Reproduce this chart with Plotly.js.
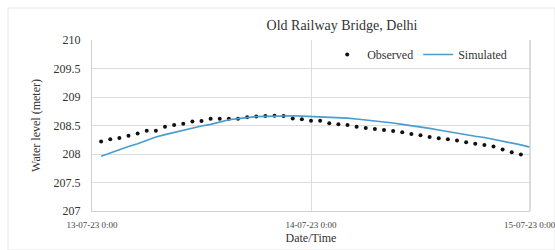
<!DOCTYPE html>
<html>
<head>
<meta charset="utf-8">
<script src="https://cdn.plot.ly/plotly-3.0.1.min.js"></script>
<style>html,body{margin:0;padding:0;background:#fff;}#chart{width:555px;height:250px;}</style>
</head>
<body>
<div id="chart"></div>
<script>
// hours after 13-07-23 0:00
var obsHours = [1,2,3,4,5,6,7,8,9,10,11,12,13,14,15,16,17,18,19,20,21,22,23,24,25,26,27,28,29,30,31,32,33,34,35,36,37,38,39,40,41,42,43,44,45,46,47];
var observed = [208.22,208.26,208.28,208.32,208.36,208.41,208.41,208.48,208.51,208.53,208.57,208.58,208.62,208.62,208.62,208.62,208.645,208.66,208.665,208.67,208.665,208.625,208.61,208.585,208.585,208.54,208.52,208.51,208.48,208.455,208.44,208.42,208.405,208.38,208.35,208.33,208.30,208.275,208.26,208.235,208.205,208.18,208.16,208.13,208.08,208.03,207.99];
var simHours = [1,2,3,4,5,6,7,8,9,10,11,12,13,14,15,16,17,18,19,20,21,22,23,24,25,26,27,28,29,30,31,32,33,34,35,36,37,38,39,40,41,42,43,44,45,46,47,48];
var simulated = [207.96,208.02,208.08,208.13,208.18,208.24,208.30,208.34,208.38,208.42,208.46,208.49,208.52,208.56,208.60,208.62,208.64,208.655,208.66,208.665,208.67,208.67,208.665,208.66,208.655,208.65,208.64,208.63,208.615,208.60,208.585,208.565,208.545,208.52,208.50,208.47,208.45,208.42,208.39,208.365,208.34,208.31,208.29,208.26,208.23,208.20,208.16,208.12];
var xTickVals = [0,24,48];
var xTickText = ['13-07-23 0:00','14-07-23 0:00','15-07-23 0:00'];

var serif = '"Liberation Serif"';
var data = [
  {x: obsHours, y: observed, name: 'Observed', type: 'scatter', mode: 'markers',
   marker: {color: '#111', size: 4}},
  {x: simHours, y: simulated, name: 'Simulated', type: 'scatter', mode: 'lines',
   line: {color: '#4a9bd0', width: 1.6}}
];
var tickFont = {family: serif, size: 9, color: '#444'};
var layout = {
  width: 555, height: 250,
  margin: {l: 92, r: 25, t: 40, b: 39},
  paper_bgcolor: '#fff', plot_bgcolor: '#fff',
  font: {family: serif, color: '#333'},
  showlegend: true,
  legend: {orientation: 'h', x: 0.537, y: 0.915, xanchor: 'left', yanchor: 'middle',
           font: {family: serif, size: 12, color: '#333'}, bgcolor: 'rgba(0,0,0,0)',
           tracegroupgap: 0, itemwidth: 30},
  title: {text: 'Old Railway Bridge, Delhi', font: {family: serif, size: 14, color: '#333'},
          x: 342/555, xanchor: 'center', y: 1 - 25/250, yanchor: 'middle'},
  xaxis: {range: [0, 48], tickvals: xTickVals.slice(0, 2), ticktext: xTickText.slice(0, 2), automargin: false,
          showgrid: true, gridcolor: '#dcdcdc', gridwidth: 1,
          showline: true, linecolor: '#d0d0d0', zeroline: false,
          ticks: 'outside', ticklen: 5, tickcolor: 'rgba(0,0,0,0)',
          tickfont: tickFont,
          title: {text: 'Date/Time', font: {family: serif, size: 12, color: '#333'}, standoff: 4}},
  yaxis: {range: [207, 210], dtick: 0.5, tick0: 207, automargin: false,
          showgrid: true, gridcolor: '#dcdcdc', gridwidth: 1,
          showline: true, linecolor: '#d0d0d0', zeroline: false,
          ticks: 'outside', ticklen: 8, tickcolor: 'rgba(0,0,0,0)',
          tickfont: {family: serif, size: 12, color: '#333'},
          title: {text: 'Water level (meter)', font: {family: serif, size: 12, color: '#333'}, standoff: 10}},
  annotations: [
    {x: xTickVals[2], xref: 'x', y: -14/171, yref: 'paper', text: xTickText[2],
     showarrow: false, xanchor: 'center', yanchor: 'middle', font: tickFont}
  ],
  shapes: [
    {type: 'rect', xref: 'paper', yref: 'paper', x0: 1, x1: 1, y0: 0, y1: 1,
     line: {color: '#d0d0d0', width: 1}},
    {type: 'rect', xref: 'paper', yref: 'paper', x0: -84/438, x1: 1 + 25/438, y0: -39/171, y1: 1 + 32/171,
     line: {color: '#e6e6e6', width: 1}}
  ]
};
Plotly.newPlot('chart', data, layout, {displayModeBar: false, staticPlot: true});
</script>
</body>
</html>
